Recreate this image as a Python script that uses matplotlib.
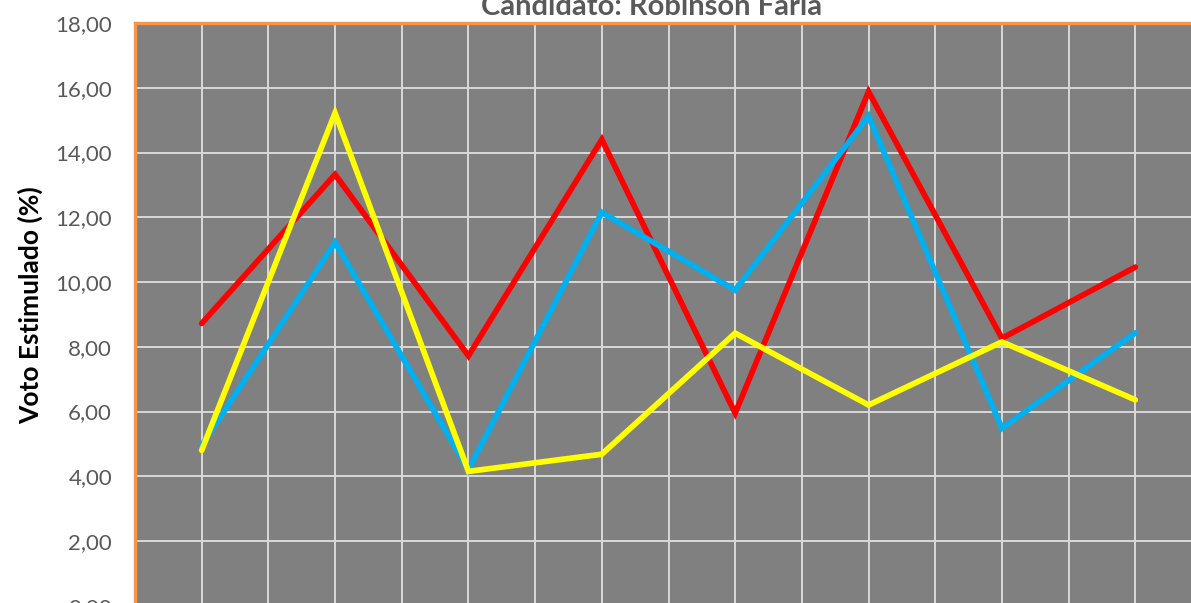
import matplotlib
matplotlib.use("Agg")
import matplotlib.pyplot as plt
import numpy as np
from matplotlib.ticker import FixedLocator, FuncFormatter

# Data
categories = ["P1", "P2", "P3", "P4", "P5", "P6", "P7", "P8"]
serie_vermelha = [8.72, 13.32, 7.72, 14.40, 5.95, 15.88, 8.26, 10.46]
serie_azul = [4.95, 11.22, 4.20, 12.15, 9.75, 15.12, 5.48, 8.43]
serie_amarela = [4.80, 15.22, 4.15, 4.68, 8.42, 6.20, 8.15, 6.36]
y_ticks = [0, 2, 4, 6, 8, 10, 12, 14, 16, 18]

W, H = 1191, 603
fig = plt.figure(figsize=(W / 100, H / 100), dpi=100)
fig.patch.set_facecolor("white")

left_px, right_px, top_px, zero_px = 135, 1202, 23, 605.75
ax = fig.add_axes([left_px / W, 1 - zero_px / H,
                   (right_px - left_px) / W, (zero_px - top_px) / H])
ax.set_facecolor("#808080")

x = np.arange(len(categories))
lw = 4.1
ax.plot(x, serie_vermelha, color="#FF0000", lw=lw, solid_capstyle="round", solid_joinstyle="miter", zorder=3)
ax.plot(x, serie_azul, color="#00B0F0", lw=lw, solid_capstyle="round", solid_joinstyle="miter", zorder=4)
ax.plot(x, serie_amarela, color="#FFFF00", lw=lw, solid_capstyle="round", solid_joinstyle="miter", zorder=5)

ax.set_xlim(-0.5, len(categories) - 0.5)
ax.set_ylim(0, 18)

ax.yaxis.set_major_locator(FixedLocator(y_ticks))
ax.yaxis.set_major_formatter(FuncFormatter(lambda v, p: f"{v:.2f}".replace(".", ",")))
ax.xaxis.set_major_locator(FixedLocator(np.arange(-0.5, len(categories) + 0.5, 0.5)))
ax.set_xticklabels([])

ax.grid(True, which="major", color="#D9D9D9", lw=1.4, zorder=1)
ax.set_axisbelow(True)
ax.tick_params(axis="both", length=0)
ax.tick_params(axis="y", pad=16.5, labelsize=16, labelcolor="#595959")
for lab in ax.get_yticklabels():
    lab.set_fontfamily(["Lato", "DejaVu Sans"])

for side in ["right", "bottom"]:
    ax.spines[side].set_visible(False)
for side in ["left", "top"]:
    ax.spines[side].set_color("#F79646")
    ax.spines[side].set_linewidth(2.4)
    ax.spines[side].set_zorder(6)

fig.text(30 / W, 1 - 305 / H, "Voto Estimulado (%)", rotation=90,
         ha="center", va="center", fontsize=19, fontweight="bold",
         color="black", family=["Lato", "DejaVu Sans"])
fig.text(652 / W, 1 - 15 / H, "Candidato: Robinson Faria", ha="center",
         va="baseline", fontsize=21, fontweight="bold", color="#595959",
         family=["Lato", "DejaVu Sans"])

fig.savefig("out.png", dpi=100, facecolor="white")
